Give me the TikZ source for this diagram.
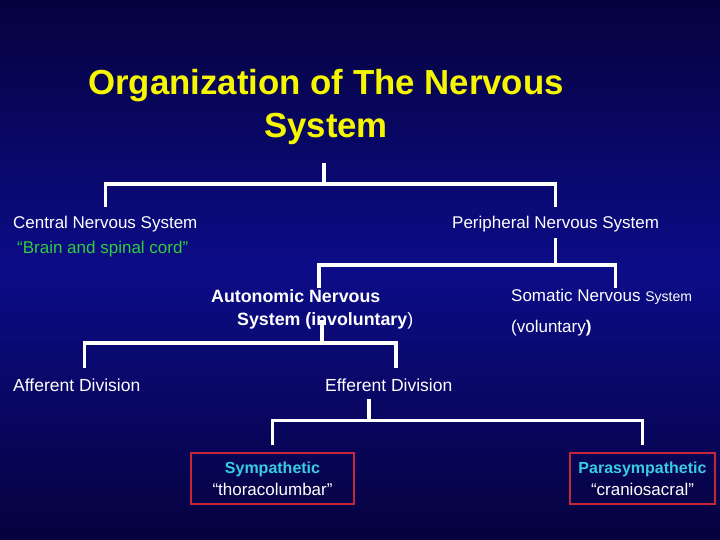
\documentclass[tikz,border=0pt]{standalone}
\usepackage{fontspec}
\setmainfont{Liberation Sans}
\usepackage{xcolor}
\usetikzlibrary{positioning}
\definecolor{bgdark}{RGB}{6,2,62}
\definecolor{bgmid}{RGB}{12,12,136}
\definecolor{titleyellow}{RGB}{246,246,0}
\definecolor{notegreen}{RGB}{48,204,64}
\definecolor{boxcyan}{RGB}{56,204,228}
\definecolor{boxred}{RGB}{196,40,56}
\tikzset{
    label/.style={text=white, inner sep=0pt, anchor=west, font=\fontsize{17}{20}\selectfont},
    heading/.style={text=titleyellow, inner sep=0pt, align=center, font=\fontsize{34.8}{43}\selectfont\bfseries},
    division/.style={rectangle, draw=boxred, line width=1.6pt, text=white, align=center, minimum height=51pt, inner sep=0pt, font=\fontsize{17}{22}\selectfont},
    tree/.style={white, line width=3.5pt}
}

\begin{document}
\begin{tikzpicture}[x=1pt, y=1pt]
    % slide background
    \shade[top color=bgdark, bottom color=bgmid] (0,270) rectangle (720,540);
    \shade[top color=bgmid, bottom color=bgdark] (0,0) rectangle (720,270.5);
    \useasboundingbox (0,0) rectangle (720,540);

    \node (title) [heading] at (326,433) {Organization of The Nervous\\System};
    \node (cns) [label] at (13,316) {Central Nervous System};
    \node (cnsnote) [label, text=notegreen, below=9pt of cns.south west, anchor=north west, xshift=4pt] {``Brain and spinal cord''};
    \node (pns) [label] at (452,316) {Peripheral Nervous System};
    \node (aut) [label, anchor=north west, align=left, font=\fontsize{17.8}{23}\selectfont\bfseries] at (211,251)
        {Autonomic Nervous\\\hspace*{26pt}System (involuntary\textmd{)}};
    \node (som) [label, anchor=north west, align=left, font=\fontsize{17}{31}\selectfont] at (511,251)
        {Somatic Nervous {\fontsize{14}{31}\selectfont System}\\{\fontsize{17}{31}\selectfont(voluntary}\textbf{)}};
    \node (aff) [label, font=\fontsize{17.5}{20}\selectfont] at (13,155) {Afferent Division};
    \node (eff) [label, font=\fontsize{17.5}{20}\selectfont] at (325,155) {Efferent Division};
    \node (sym) [division, minimum width=163pt] at (272.5,61.5) {\fontsize{16}{22}\selectfont\textbf{\textcolor{boxcyan}{Sympathetic}}\\``thoracolumbar''};
    \node (para) [division, minimum width=145pt] at (642.5,61.5) {\fontsize{16}{22}\selectfont\textbf{\textcolor{boxcyan}{Parasympathetic}}\\``craniosacral''};

    % branches
    \draw [tree] ([xshift=-2pt,yshift=-18pt]title.south) -- ++(0,-21) coordinate (j1);
    \draw [tree] ([yshift=9pt]cns.north) |- (j1) -| ([yshift=9pt]pns.north);
    \draw [tree] ([yshift=-6pt]pns.south) -- ++(0,-27) coordinate (j2);
    \draw [tree] ([xshift=7pt,yshift=1pt]aut.north) |- (j2) -| ([xshift=14pt,yshift=1pt]som.north);
    \draw [tree] ([xshift=10pt,yshift=9pt]aut.south) -- ++(0,-23) coordinate (j3);
    \draw [tree] ([xshift=8pt,yshift=10pt]aff.north) |- (j3) -| ([xshift=7pt,yshift=10pt]eff.north);
    \draw [tree] ([xshift=-20pt,yshift=-7pt]eff.south) -- ++(0,-22) coordinate (j4);
    \draw [tree] ([yshift=7pt]sym.north) |- (j4) -| ([yshift=7pt]para.north);
\end{tikzpicture}
\end{document}
